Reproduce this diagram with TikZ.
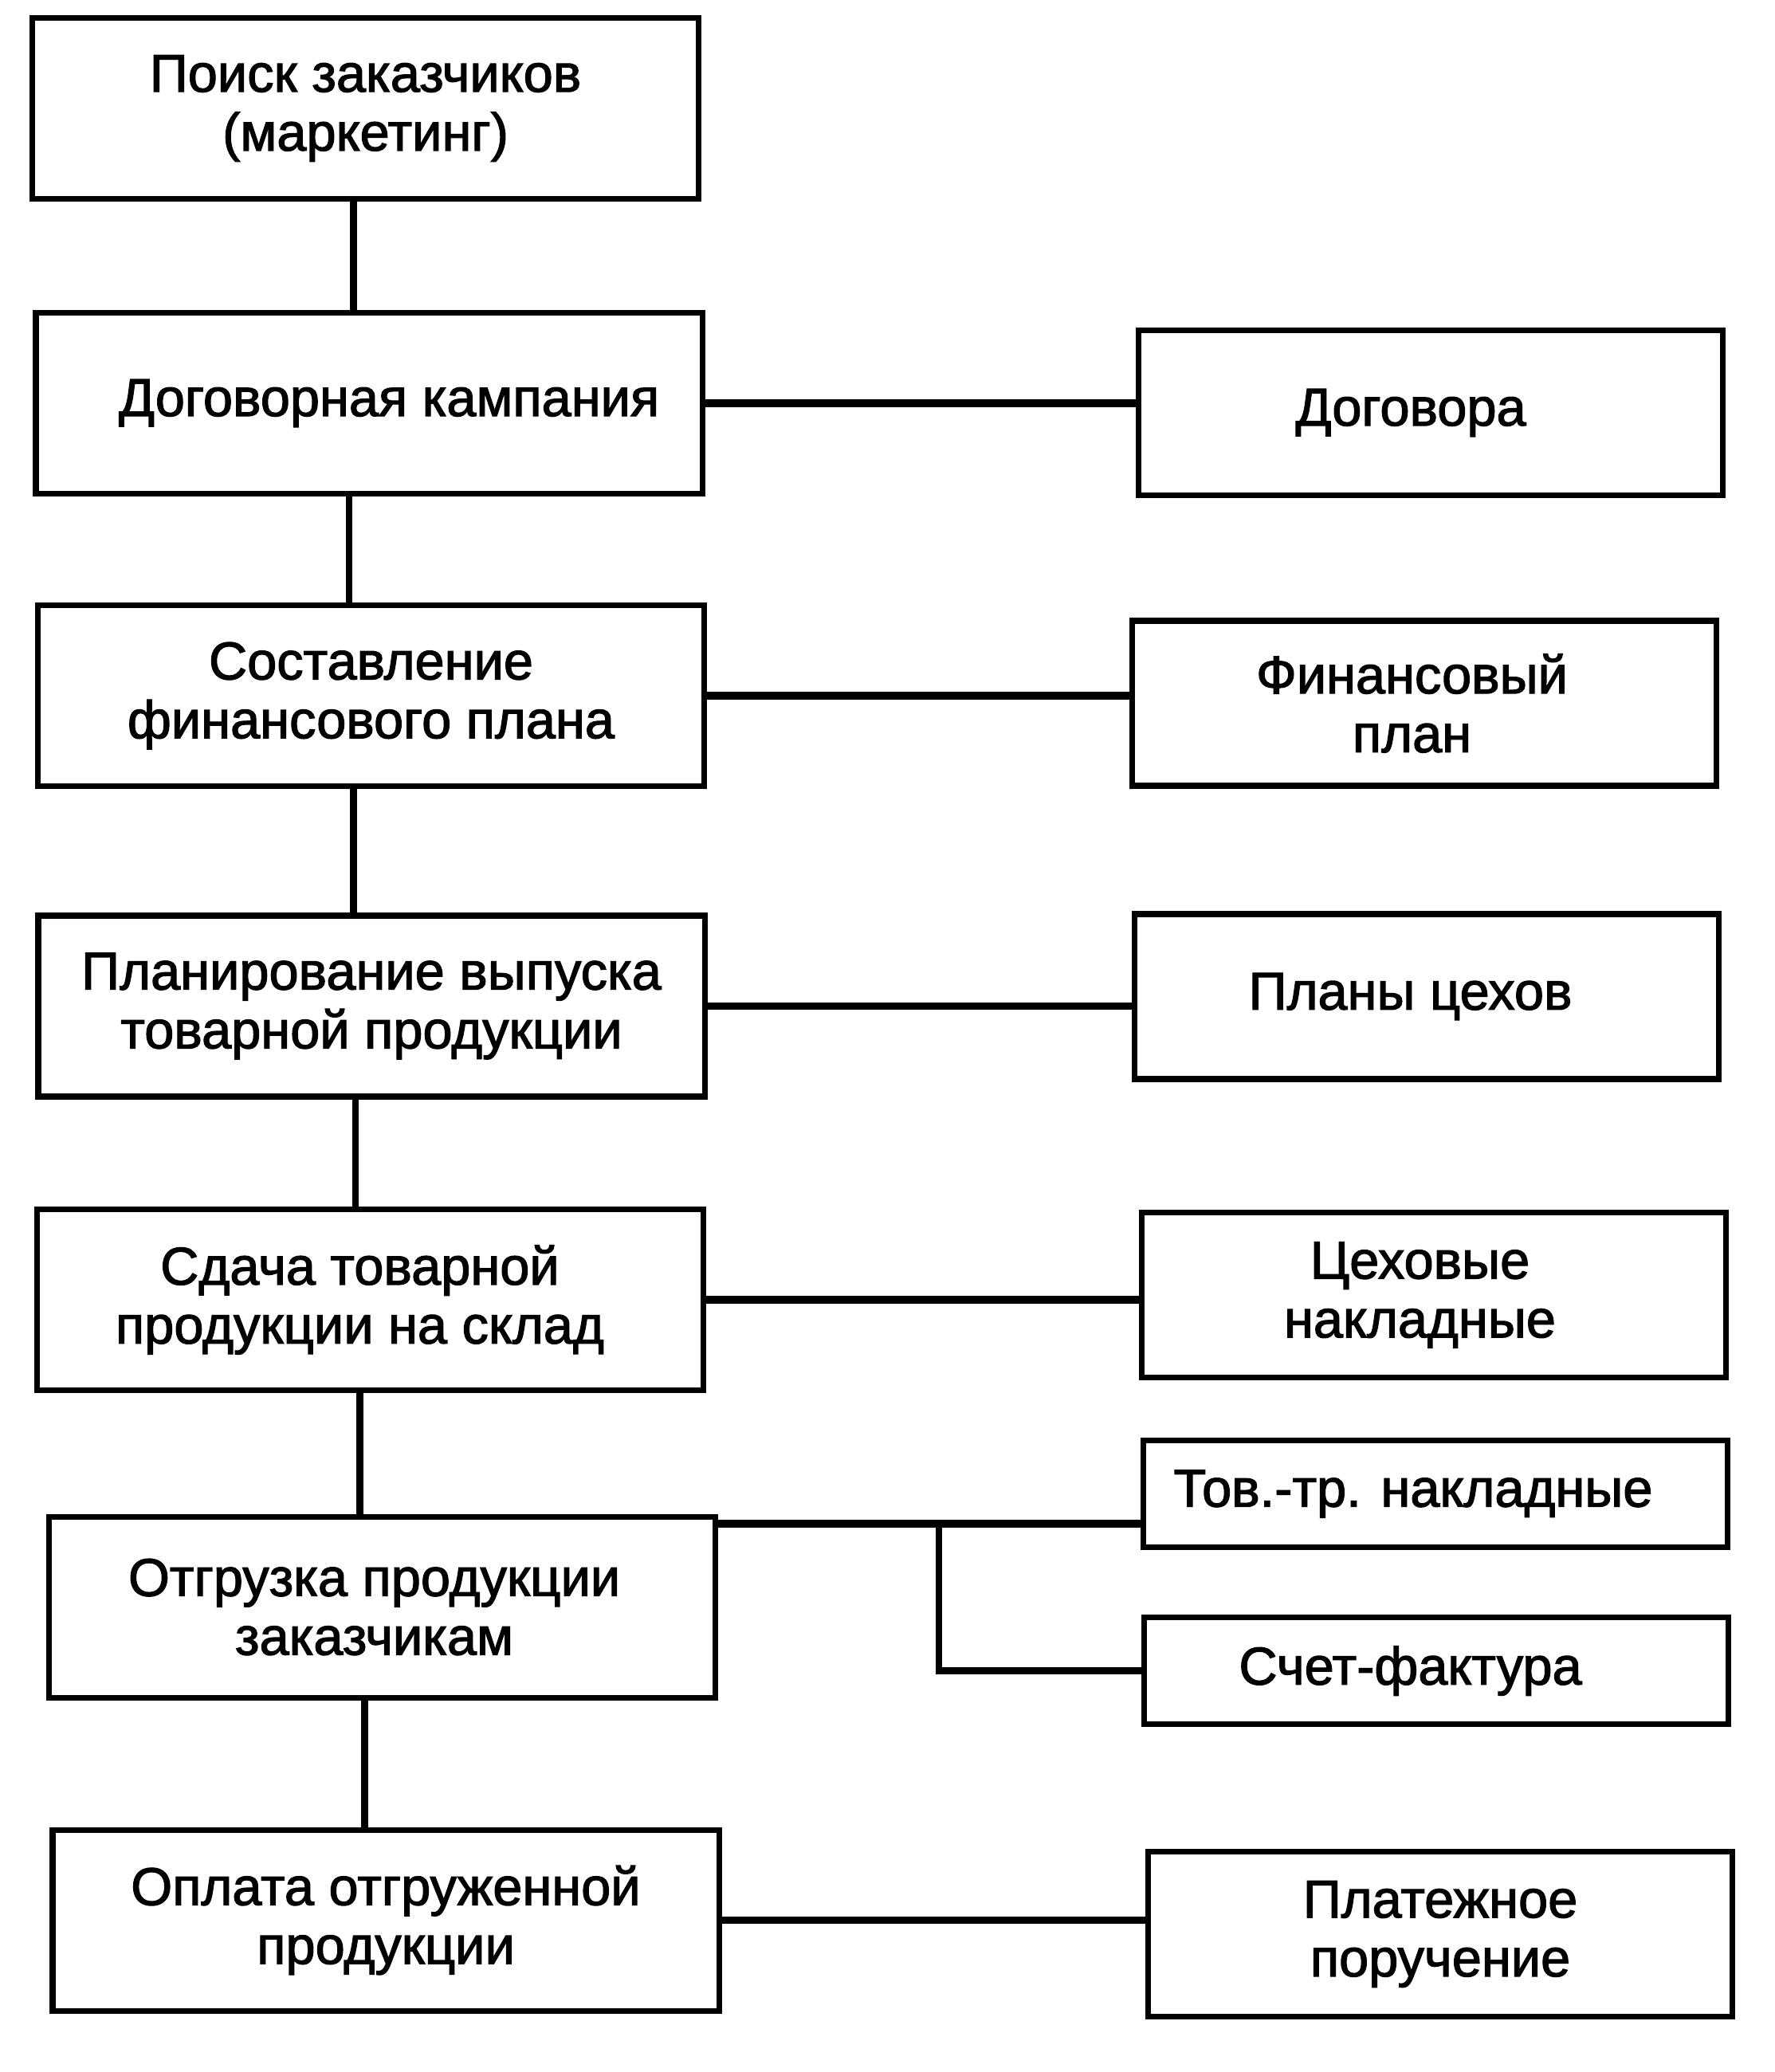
\documentclass[tikz,border=0pt]{standalone}
\usepackage{fontspec}
\setmainfont{Liberation Sans}
\newfontfamily\boxfont[RawFeature={embolden=1.8}]{Liberation Sans}
\usepackage{tikz}

\begin{document}
\begin{tikzpicture}[
    x=1mm, y=-1mm,
    every node/.style={
        draw,
        rectangle,
        line width=2pt,
        inner sep=1mm,
        outer sep=0pt,
        align=center,
        font=\boxfont\fontsize{19}{21}\selectfont
    },
    stage/.style={minimum width=83.6mm, minimum height=22.7mm},
    doc/.style={minimum width=73.3mm, minimum height=20.7mm},
    docsmall/.style={minimum width=73.3mm, minimum height=13.4mm},
    vlink/.style={line width=2.3pt},
    hlink/.style={line width=2.8pt}
]

\useasboundingbox (0,0) rectangle (222.6,260);

% Nodes
\node[stage] (L1) at (45.85,13.6) {Поиск заказчиков \\ (маркетинг)};
\node[stage] (L2) at (46.3,50.6) {\hspace*{5mm}Договорная кампания};
\node[stage] (L3) at (46.55,87.3) {Составление \\ финансового плана};
\node[stage] (L4) at (46.6,126.25) {Планирование выпуска \\ товарной продукции};
\node[stage] (L5) at (46.45,163.1) {Сдача товарной\hspace*{2.6mm} \\ продукции на склад\hspace*{2.6mm}};
\node[stage] (L6) at (47.95,201.65) {Отгрузка продукции\hspace*{2mm} \\ заказчикам\hspace*{2mm}};
\node[stage] (L7) at (48.4,240.95) {Оплата отгруженной \\ продукции};

\node[doc] (R1) at (179.5,51.8) {Договора\hspace*{5mm}};
\node[doc] (R2) at (178.65,88.25) {Финансовый\hspace*{3mm} \\ план\hspace*{3mm}};
\node[doc] (R3) at (178.95,125.05) {Планы цехов\hspace*{4mm}};
\node[doc] (R4) at (179.9,162.5) {Цеховые\hspace*{3.5mm} \\ накладные\hspace*{3.5mm}};
\node[docsmall] (R5) at (180.05,187.45) {Тов.-тр. накладные\hspace*{5.5mm}};
\node[docsmall] (R6) at (180.2,209.65) {Счет-фактура\hspace*{6.5mm}};
\node[doc] (R7) at (180.7,242.7) {Платежное \\ поручение};

\coordinate (fork) at (117.8,191.2);

% Connections
\draw[vlink] ([xshift=-1.5mm]L1.south) -- ([xshift=-1.5mm]L1.south |- L2.north);
\draw[vlink] ([xshift=-2.5mm]L2.south) -- ([xshift=-2.5mm]L2.south |- L3.north);
\draw[vlink] ([xshift=-2.2mm]L3.south) -- ([xshift=-2.2mm]L3.south |- L4.north);
\draw[vlink] ([xshift=-2mm]L4.south) -- ([xshift=-2mm]L4.south |- L5.north);
\draw[vlink] ([xshift=-1.3mm]L5.south) -- ([xshift=-1.3mm]L5.south |- L6.north);
\draw[vlink] ([xshift=-2.2mm]L6.south) -- ([xshift=-2.2mm]L6.south |- L7.north);

\draw[hlink] (L2.east) -- (L2.east -| R1.west);
\draw[hlink] (L3.east) -- (L3.east -| R2.west);
\draw[hlink] (L4.east) -- (L4.east -| R3.west);
\draw[hlink] (L5.east) -- (L5.east -| R4.west);

\draw[hlink] (fork -| L6.east) -- (fork -| R5.west);
\draw[vlink] (fork) |- (R6.west);

\draw[hlink] (L7.east) -- (L7.east -| R7.west);

\end{tikzpicture}
\end{document}
